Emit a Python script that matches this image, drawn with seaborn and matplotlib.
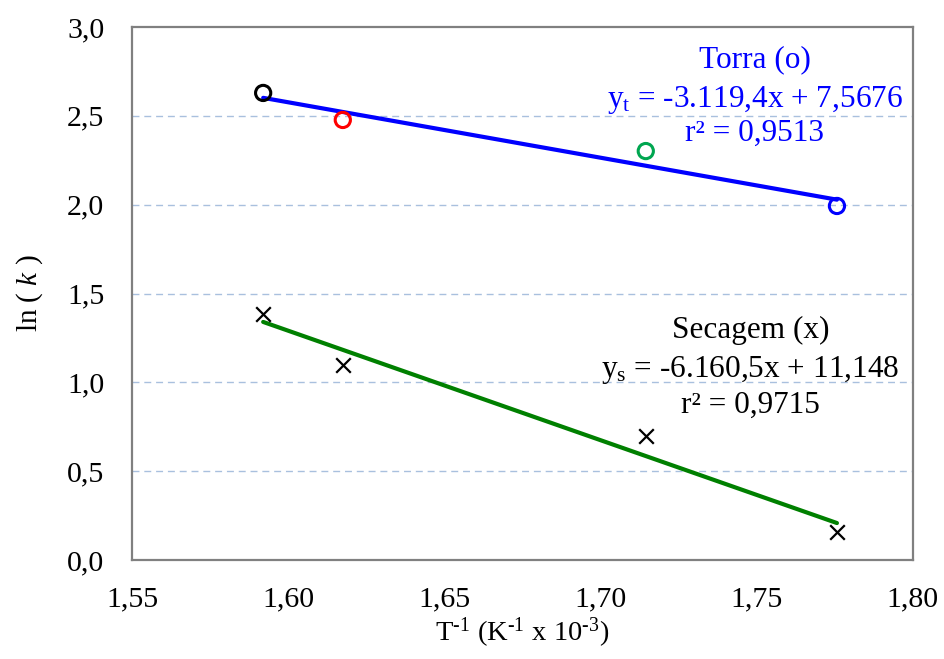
import numpy as np
import pandas as pd
import matplotlib
matplotlib.use('Agg')
import matplotlib.pyplot as plt
from matplotlib.ticker import MultipleLocator, FixedLocator
import seaborn as sns

sns.set_style('white')
plt.rcParams['font.family'] = ['Liberation Serif', 'DejaVu Serif']
plt.rcParams['mathtext.fontset'] = 'custom'
plt.rcParams['mathtext.rm'] = 'Liberation Serif'
plt.rcParams['mathtext.it'] = 'Liberation Serif:italic'
plt.rcParams['text.color'] = 'black'
plt.rcParams['axes.labelcolor'] = 'black'

# data
inv_T = [1.592, 1.6175, 1.7145, 1.7757]          # T^-1 (K^-1 x 10^-3)
ln_k_torra = [2.629, 2.477, 2.302, 1.993]
ln_k_secagem = [1.385, 1.098, 0.698, 0.158]
torra_colors = ['black', 'red', '#00a650', 'blue']

# regression coefficients shown on the chart
torra_slope, torra_int = -3.1194, 7.5676
sec_slope, sec_int = -6.1605, 11.148

xticks = [1.55, 1.60, 1.65, 1.70, 1.75, 1.80]
xtick_labels = ['1,55', '1,60', '1,65', '1,70', '1,75', '1,80']
yticks = [0.0, 0.5, 1.0, 1.5, 2.0, 2.5, 3.0]
ytick_labels = ['0,0', '0,5', '1,0', '1,5', '2,0', '2,5', '3,0']

fig = plt.figure(figsize=(9.44, 6.59), dpi=100)
ax = fig.add_axes([0.1398, 0.150, 0.8272, 0.809])

# grid
for yv in yticks[1:-1]:
    ax.axhline(yv, color='#a9c0de', lw=1, ls=(0, (5, 3.5)), zorder=0)

# fit lines
x_line = np.array([inv_T[0], inv_T[-1]])
fit = pd.DataFrame({
    'x': np.concatenate([x_line, x_line]),
    'y': np.concatenate([torra_slope * x_line + torra_int, sec_slope * x_line + sec_int]),
    'serie': ['Torra'] * 2 + ['Secagem'] * 2,
})
sns.lineplot(data=fit, x='x', y='y', hue='serie', palette={'Torra': 'blue', 'Secagem': '#008000'},
             lw=3, legend=False, ax=ax, zorder=2)

# torra points (open circles)
for xv, yv, c in zip(inv_T, ln_k_torra, torra_colors):
    sns.scatterplot(x=[xv], y=[yv], marker='o', s=120, facecolor='none', edgecolor=c,
                    linewidth=2.2, ax=ax, zorder=3)

# secagem points (crosses)
sns.scatterplot(x=inv_T, y=ln_k_secagem, marker='x', s=110, color='black', linewidth=1.6,
                ax=ax, zorder=3)

ax.set_xlim(1.55, 1.80)
ax.set_ylim(0, 3.0)
ax.xaxis.set_major_locator(FixedLocator(xticks))
ax.set_xticklabels(xtick_labels)
ax.yaxis.set_major_locator(FixedLocator(yticks))
ax.set_yticklabels(ytick_labels)
ax.xaxis.set_minor_locator(MultipleLocator(0.01))
ax.yaxis.set_minor_locator(MultipleLocator(0.1))
ax.tick_params(axis='both', which='both', direction='in', length=5, width=1.3,
               color='#808080', labelsize=21.5, labelcolor='black')
ax.tick_params(axis='x', which='major', pad=19)
ax.tick_params(axis='y', which='major', pad=20)

for s in ax.spines.values():
    s.set_color('#808080')
    s.set_linewidth(1.6)
    s.set_visible(True)

ax.set_xlabel(r'T$^{\text{-1}}$ (K$^{\text{-1}}$ x 10$^{\text{-3}}$)', fontsize=20.5, labelpad=2)
ax.set_ylabel(r'ln ( $k$ )', fontsize=21, labelpad=16)

# annotations
fs = 22.5
ax.text(1.7494, 2.814, 'Torra (o)', color='blue', fontsize=fs, ha='center', va='center')
ax.text(1.7494, 2.589, r'y$_\mathrm{t}$ = -3.119,4x + 7,5676', color='blue', fontsize=fs,
        ha='center', va='center')
ax.text(1.7494, 2.403, 'r² = 0,9513', color='blue', fontsize=fs, ha='center', va='center')

ax.text(1.748, 1.295, 'Secagem (x)', color='black', fontsize=fs, ha='center', va='center')
ax.text(1.748, 1.069, r'y$_\mathrm{s}$ = -6.160,5x + 11,148', color='black', fontsize=fs,
        ha='center', va='center')
ax.text(1.748, 0.872, 'r² = 0,9715', color='black', fontsize=fs, ha='center', va='center')

fig.savefig('out.png', dpi=100)
